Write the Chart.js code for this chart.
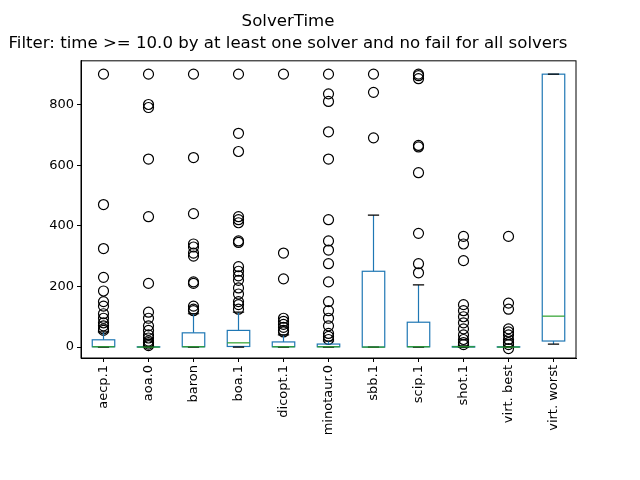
<!DOCTYPE html>
<html>
<head>
<meta charset="utf-8">
<script src="https://cdn.jsdelivr.net/npm/chart.js@4"></script>
<style>
  body { margin: 0; background: #fff; }
  #wrap { width: 640px; height: 480px; }
</style>
</head>
<body>
<div id="wrap"><canvas id="grafico" width="640" height="480"></canvas></div>
<script>
// solvers del eje x
const solvers = ["aecp.1", "aoa.0", "baron", "boa.1", "dicopt.1", "minotaur.0", "sbb.1", "scip.1", "shot.1", "virt. best", "virt. worst"];
// estadisticas de cada caja
const q1 = [1, 0, 1, 2, 1, 1, 0, 1, 0, 0, 20];
const mediana = [1, 0, 1, 14, 1, 1, 0, 1, 1, 0, 102];
const q3 = [24, 1, 47, 55, 17, 10, 250, 82, 2, 1, 900];
const bigoteInf = [0, 0, 0, 0, 0, 0, 0, 0, 0, 0, 10];
const bigoteSup = [50, 2, 110, 115, 40, 20, 435, 205, 4, 2, 900];
const atipicos = [
  [900, 470, 325, 230, 185, 150, 135, 110, 95, 80, 70, 60, 55],
  [900, 800, 790, 620, 430, 210, 115, 95, 70, 55, 40, 30, 20, 15, 10, 5],
  [900, 625, 440, 340, 330, 310, 300, 215, 210, 135, 125, 120],
  [900, 705, 645, 430, 420, 410, 350, 345, 265, 250, 235, 220, 195, 175, 150, 140, 125],
  [900, 310, 225, 95, 85, 75, 65, 55, 50],
  [900, 835, 810, 710, 620, 420, 350, 320, 275, 215, 150, 120, 95, 70, 45, 35, 25],
  [900, 840, 690],
  [900, 895, 885, 665, 660, 575, 375, 275, 245],
  [365, 340, 285, 140, 120, 100, 80, 60, 40, 25, 15, 8],
  [365, 145, 125, 60, 50, 40, 25, 15, 8, -5],
  []
];
const ticksY = [0, 200, 400, 600, 800];

const puntos = [];
atipicos.forEach((lista, i) => lista.forEach(v => puntos.push({ x: i, y: v })));

// plugin que dibuja las cajas con las escalas de Chart.js
const cajas = {
  id: "cajas",
  afterDatasetsDraw(chart) {
    const { ctx, scales: { x, y }, chartArea: a } = chart;
    ctx.save();
    const media = (x.getPixelForValue(1) - x.getPixelForValue(0)) * 0.25;
    solvers.forEach((s, i) => {
      const cx = x.getPixelForValue(i);
      ctx.strokeStyle = "#1f77b4";
      ctx.lineWidth = 1.2;
      ctx.strokeRect(cx - media, y.getPixelForValue(q3[i]), 2 * media, y.getPixelForValue(q1[i]) - y.getPixelForValue(q3[i]));
      ctx.beginPath();
      ctx.moveTo(cx, y.getPixelForValue(q3[i])); ctx.lineTo(cx, y.getPixelForValue(bigoteSup[i]));
      ctx.moveTo(cx, y.getPixelForValue(q1[i])); ctx.lineTo(cx, y.getPixelForValue(bigoteInf[i]));
      ctx.stroke();
      ctx.strokeStyle = "#000";
      ctx.beginPath();
      [bigoteSup[i], bigoteInf[i]].forEach(v => {
        const py = y.getPixelForValue(v);
        ctx.moveTo(cx - media / 2, py); ctx.lineTo(cx + media / 2, py);
      });
      ctx.stroke();
      ctx.strokeStyle = "#2ca02c";
      ctx.beginPath();
      const pm = y.getPixelForValue(mediana[i]);
      ctx.moveTo(cx - media, pm); ctx.lineTo(cx + media, pm);
      ctx.stroke();
    });
    ctx.strokeStyle = "#000";
    ctx.lineWidth = 1;
    ctx.strokeRect(a.left, a.top, a.right - a.left, a.bottom - a.top);
    ctx.restore();
  }
};

new Chart(document.getElementById("grafico"), {
  type: "scatter",
  data: {
    datasets: [{
      data: puntos,
      pointStyle: "circle",
      pointRadius: 5,
      pointBackgroundColor: "rgba(0,0,0,0)",
      pointBorderColor: "#000",
      pointBorderWidth: 1.2
    }]
  },
  options: {
    responsive: false,
    animation: false,
    layout: { padding: { left: 0, right: 64, top: 4, bottom: 0 } },
    plugins: {
      legend: { display: false },
      tooltip: { enabled: false },
      title: {
        display: true,
        text: ["SolverTime", "Filter: time >= 10.0 by at least one solver and no fail for all solvers"],
        color: "#000",
        font: { family: "DejaVu Sans", size: 16.6, weight: "normal", lineHeight: 1.35 },
        padding: { top: 6, bottom: 6 }
      }
    },
    scales: {
      x: {
        type: "linear",
        min: -0.5,
        max: 10.5,
        afterBuildTicks: ax => { ax.ticks = solvers.map((s, i) => ({ value: i })); },
        afterFit: ax => { ax.height = 122; },
        ticks: {
          callback: v => solvers[v],
          maxRotation: 90, minRotation: 90,
          color: "#000",
          font: { family: "DejaVu Sans", size: 13 }
        },
        grid: { drawOnChartArea: false, color: "#000", tickLength: 4 },
        border: { color: "#000" }
      },
      y: {
        min: -36,
        max: 944,
        afterBuildTicks: ax => { ax.ticks = ticksY.map(v => ({ value: v })); },
        afterFit: ax => { ax.width = 81; },
        ticks: {
          color: "#000",
          font: { family: "DejaVu Sans", size: 13 }
        },
        grid: { drawOnChartArea: false, color: "#000", tickLength: 4 },
        border: { color: "#000" }
      }
    }
  },
  plugins: [cajas]
});
</script>
</body>
</html>
